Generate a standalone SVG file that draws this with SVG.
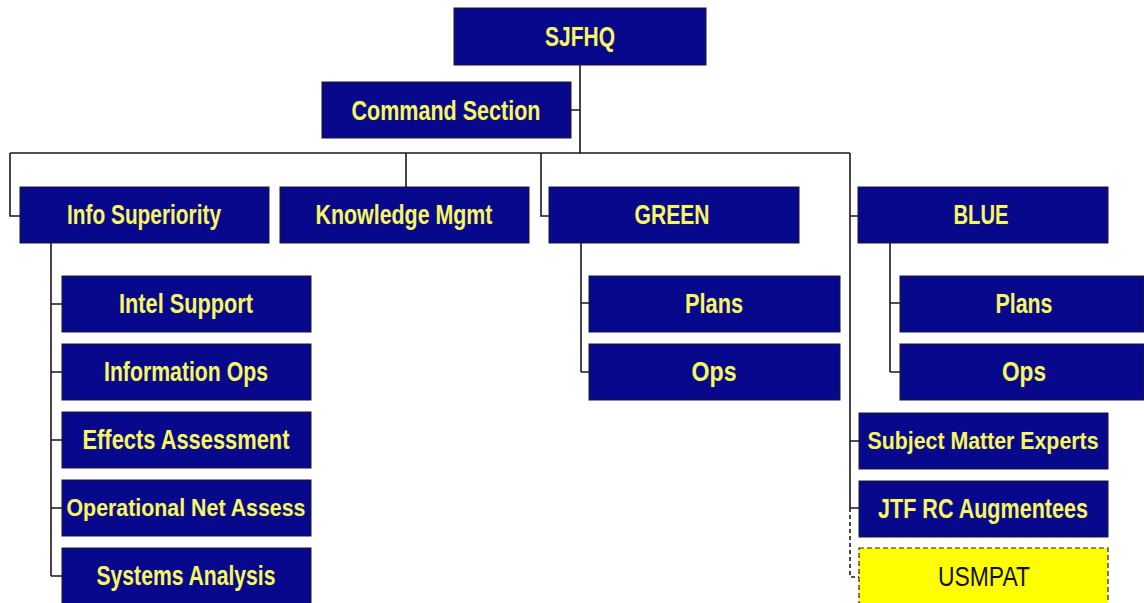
<svg xmlns="http://www.w3.org/2000/svg" width="1144" height="603" viewBox="0 0 1144 603">
<style>
.box{fill:#08088c;stroke:#1a1a2a;stroke-width:1}
.lbl{font-family:"Liberation Sans",Arial,sans-serif;font-weight:bold;font-size:27px;fill:#f6f66a;text-anchor:middle;stroke:#30301a;stroke-width:0.4;paint-order:stroke}
.sm{font-size:24px}
.ylw{fill:#ffff00;stroke:#222;stroke-width:1.2;stroke-dasharray:5,3}
.dark{font-family:"Liberation Sans",Arial,sans-serif;font-size:27px;fill:#111;text-anchor:middle}
.ln{fill:none;stroke:#1a1a1a;stroke-width:1.6}
.dash{fill:none;stroke:#1a1a1a;stroke-width:1.6;stroke-dasharray:4,3}
</style>
<rect width="1144" height="603" fill="#ffffff"/>
<g id="connectors">
<path class="ln" d="M580,65 V153 M571,110 H580 M10,153 H850 M10,153 V216 H20 M406,153 V187 M541,153 V216 H549 M850,153 V508 M850,216 H858 M850,441 H859 M850,508 H859"/>
<path class="dash" d="M850,508 V577 H859"/>
<path class="ln" d="M51,243 V576 M51,304 H62 M51,372 H62 M51,440 H62 M51,508 H62 M51,576 H62"/>
<path class="ln" d="M581,243 V372 M581,303 H589 M581,372 H589"/>
<path class="ln" d="M890,243 V372 M890,303 H900 M890,372 H900"/>
</g>
<g id="sjfhq"><rect class="box" x="454" y="8" width="252" height="57"/><text class="lbl" x="580" y="46" textLength="70" lengthAdjust="spacingAndGlyphs">SJFHQ</text></g>
<g id="command"><rect class="box" x="322" y="82" width="249" height="56"/><text class="lbl" x="446" y="120" textLength="189" lengthAdjust="spacingAndGlyphs">Command Section</text></g>
<g id="info"><rect class="box" x="20" y="187" width="249" height="56"/><text class="lbl" x="144" y="224" textLength="154" lengthAdjust="spacingAndGlyphs">Info Superiority</text></g>
<g id="knowledge"><rect class="box" x="280" y="187" width="249" height="56"/><text class="lbl" x="404" y="224" textLength="177" lengthAdjust="spacingAndGlyphs">Knowledge Mgmt</text></g>
<g id="green"><rect class="box" x="549" y="187" width="250" height="56"/><text class="lbl" x="672" y="224" textLength="75" lengthAdjust="spacingAndGlyphs">GREEN</text></g>
<g id="blue"><rect class="box" x="858" y="187" width="250" height="56"/><text class="lbl" x="981" y="224" textLength="55" lengthAdjust="spacingAndGlyphs">BLUE</text></g>
<g id="intel"><rect class="box" x="62" y="276" width="249" height="56"/><text class="lbl" x="186" y="313" textLength="134" lengthAdjust="spacingAndGlyphs">Intel Support</text></g>
<g id="infoops"><rect class="box" x="62" y="344" width="249" height="56"/><text class="lbl" x="186" y="381" textLength="164" lengthAdjust="spacingAndGlyphs">Information Ops</text></g>
<g id="effects"><rect class="box" x="62" y="412" width="249" height="56"/><text class="lbl" x="186" y="449" textLength="207" lengthAdjust="spacingAndGlyphs">Effects Assessment</text></g>
<g id="opnet"><rect class="box" x="62" y="480" width="249" height="56"/><text class="lbl sm" x="186" y="516" textLength="239" lengthAdjust="spacingAndGlyphs">Operational Net Assess</text></g>
<g id="systems"><rect class="box" x="62" y="548" width="249" height="58"/><text class="lbl" x="186" y="585" textLength="179" lengthAdjust="spacingAndGlyphs">Systems Analysis</text></g>
<g id="green-plans"><rect class="box" x="589" y="276" width="251" height="56"/><text class="lbl" x="714" y="313" textLength="58" lengthAdjust="spacingAndGlyphs">Plans</text></g>
<g id="green-ops"><rect class="box" x="589" y="344" width="251" height="56"/><text class="lbl" x="714" y="381" textLength="45" lengthAdjust="spacingAndGlyphs">Ops</text></g>
<g id="blue-plans"><rect class="box" x="900" y="276" width="244" height="56"/><text class="lbl" x="1024" y="313" textLength="57" lengthAdjust="spacingAndGlyphs">Plans</text></g>
<g id="blue-ops"><rect class="box" x="900" y="344" width="244" height="56"/><text class="lbl" x="1024" y="381" textLength="44" lengthAdjust="spacingAndGlyphs">Ops</text></g>
<g id="sme"><rect class="box" x="859" y="413" width="249" height="56"/><text class="lbl sm" x="983" y="449" textLength="231" lengthAdjust="spacingAndGlyphs">Subject Matter Experts</text></g>
<g id="jtf"><rect class="box" x="859" y="481" width="249" height="56"/><text class="lbl" x="983" y="518" textLength="210" lengthAdjust="spacingAndGlyphs">JTF RC Augmentees</text></g>
<g id="usmpat"><rect class="ylw" x="859" y="548" width="249" height="60"/><text class="dark" x="984" y="586" textLength="92" lengthAdjust="spacingAndGlyphs">USMPAT</text></g>
</svg>
